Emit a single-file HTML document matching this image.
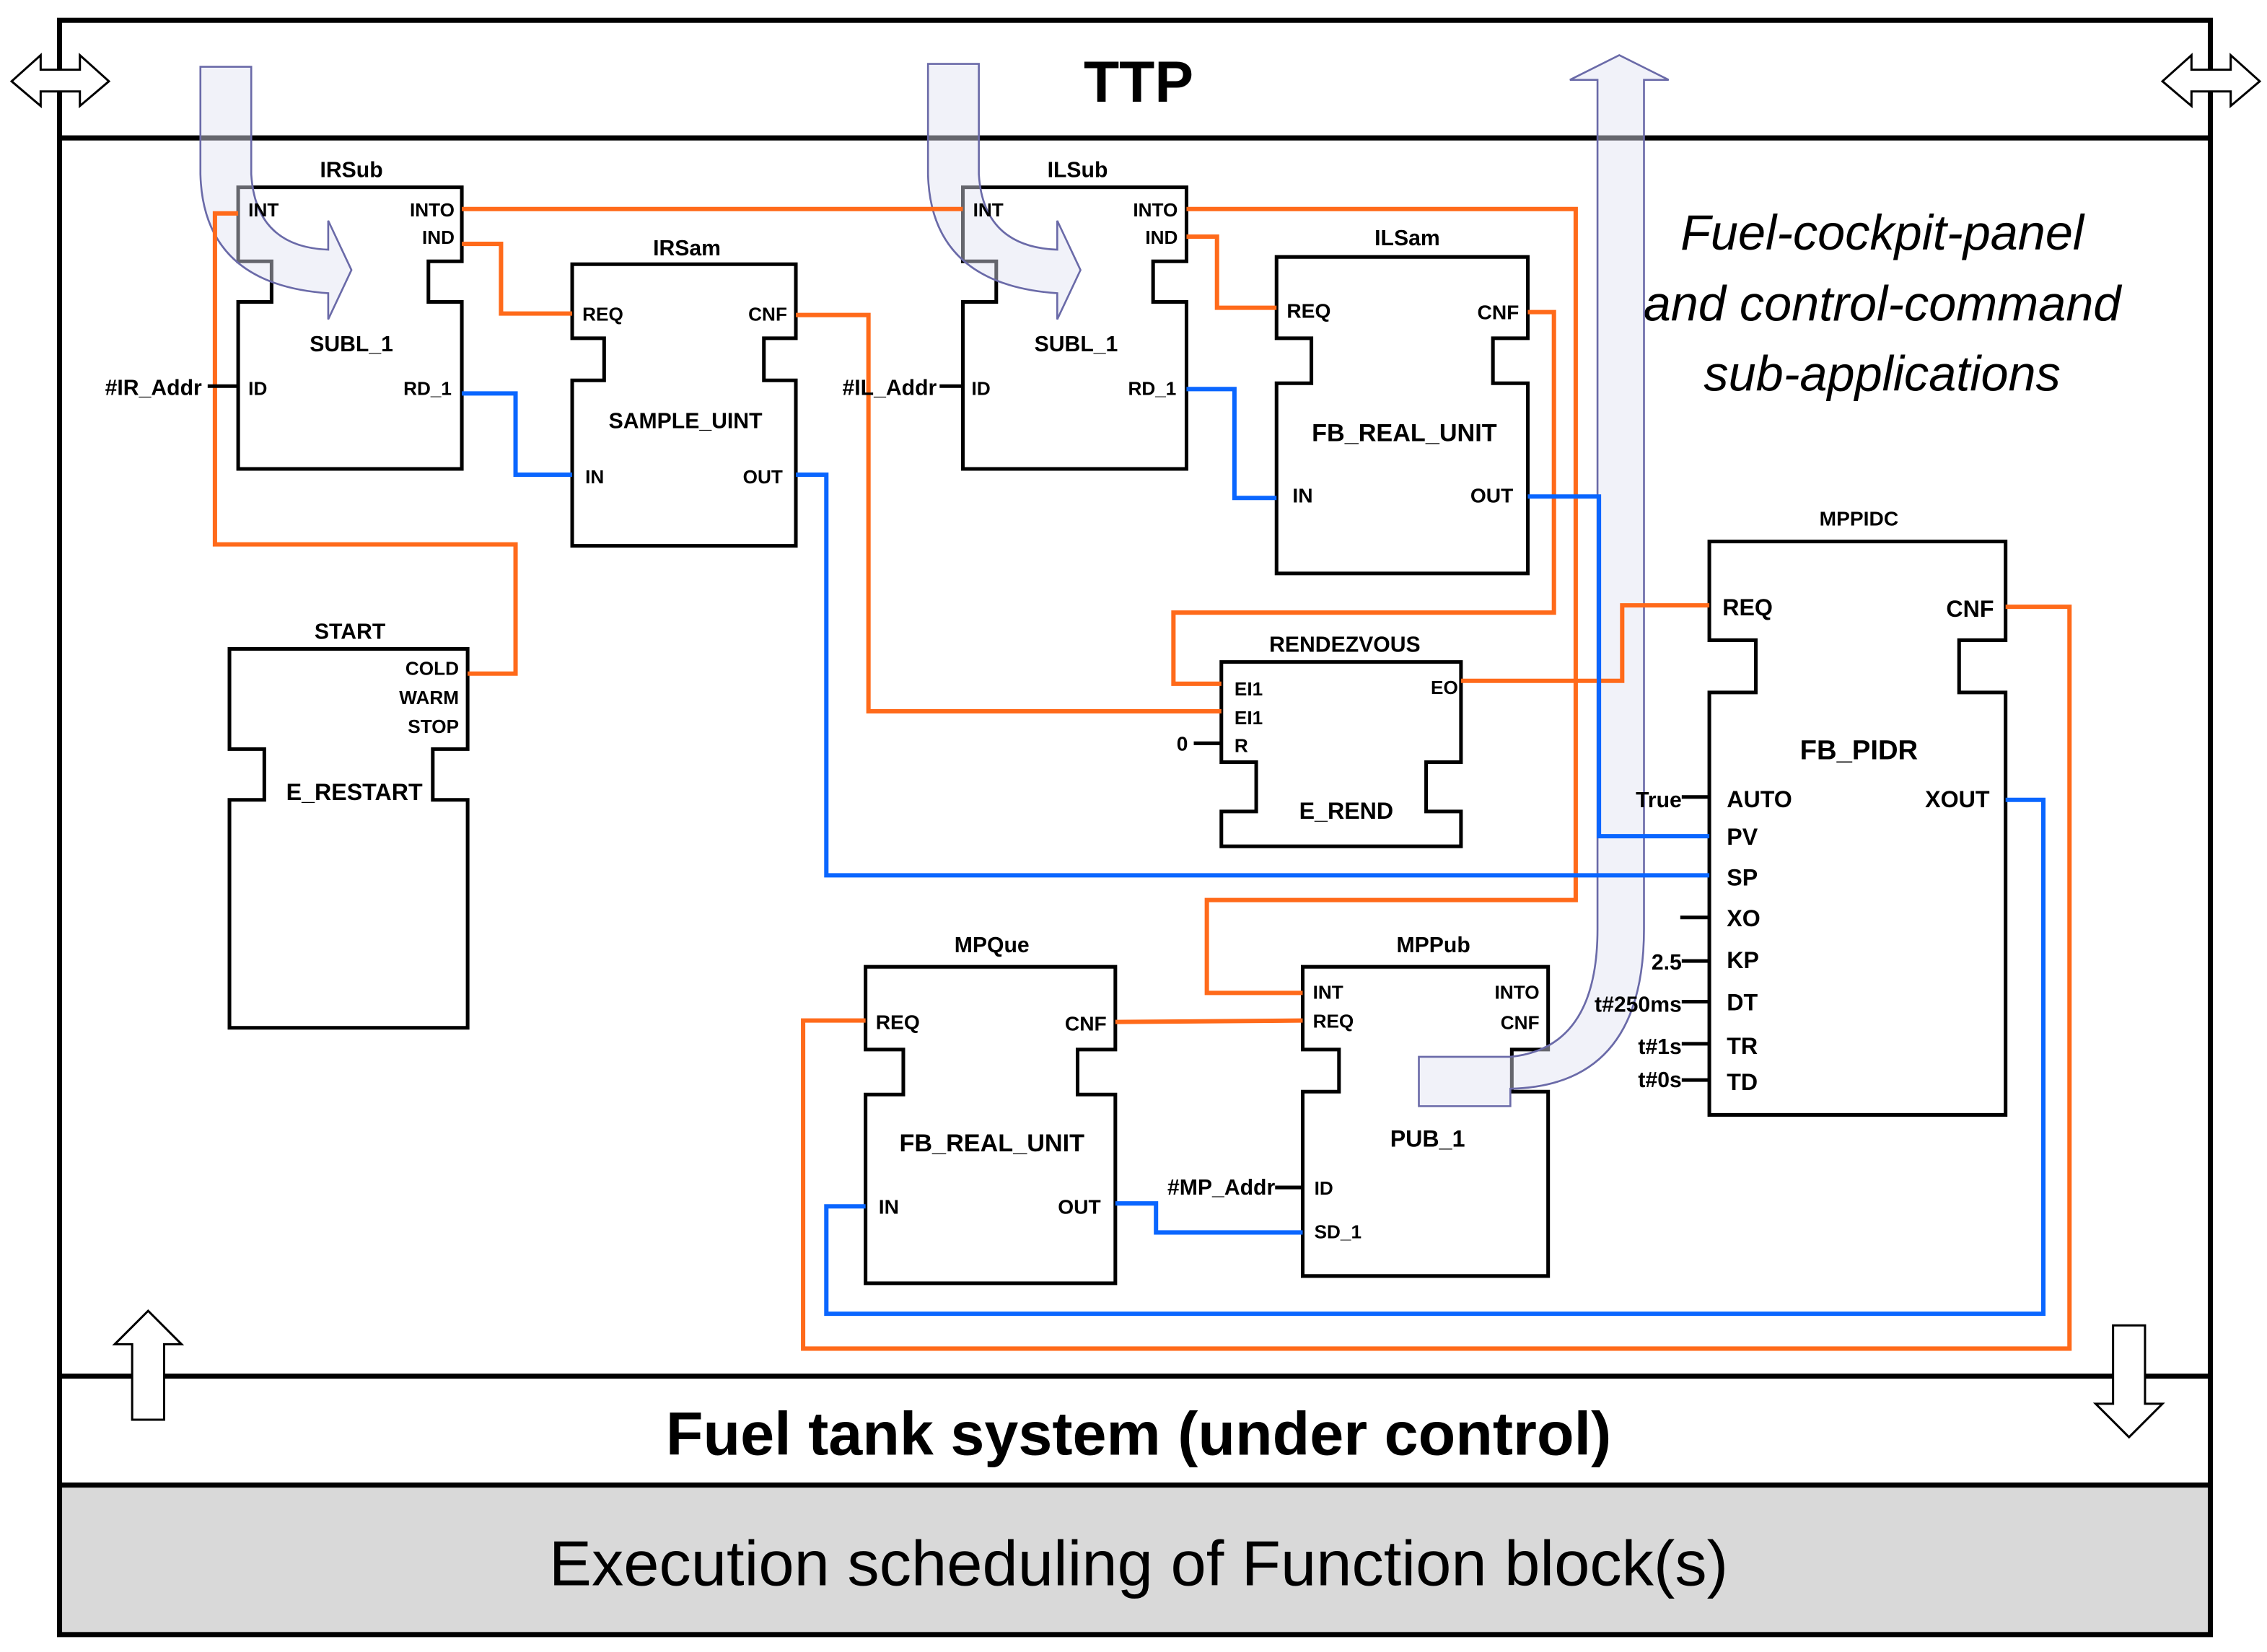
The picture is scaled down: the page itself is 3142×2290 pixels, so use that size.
<!DOCTYPE html>
<html><head><meta charset="utf-8"><style>
html,body{margin:0;padding:0;background:#fff;}
svg{display:block;}
text{font-family:"Liberation Sans",sans-serif;fill:#000;}
.p{font-size:13px;font-weight:bold;}
.n{font-size:15px;font-weight:bold;}
.b{font-size:17px;font-weight:bold;}
.o{fill:none;stroke:#ff6a1a;stroke-width:3;}
.u{fill:none;stroke:#0a66ff;stroke-width:3;}
.fb{fill:#fff;stroke:#000;stroke-width:2.5;}
.k{stroke:#000;stroke-width:2.5;}
.arr{fill:#dfe3f2;fill-opacity:0.45;stroke:#6a6aa8;stroke-width:1.3;}
.wa{fill:#fff;stroke:#000;stroke-width:1.5;}
</style></head><body>
<svg width="3142" height="2290" viewBox="0 0 1561 1138" preserveAspectRatio="none" xmlns="http://www.w3.org/2000/svg">
<rect x="41" y="1023" width="1481" height="103" fill="#d9d9d9"/>
<rect x="41" y="14" width="1481" height="1112" fill="none" stroke="#000" stroke-width="3.5"/>
<line x1="41" y1="95" x2="1522" y2="95" stroke="#000" stroke-width="3.5"/>
<line x1="41" y1="948" x2="1522" y2="948" stroke="#000" stroke-width="3.5"/>
<line x1="41" y1="1023" x2="1522" y2="1023" stroke="#000" stroke-width="3.5"/>
<text x="784" y="70" text-anchor="middle" style="font-size:40px;font-weight:bold">TTP</text>
<text x="784" y="1002" text-anchor="middle" style="font-size:42px;font-weight:bold">Fuel tank system (under control)</text>
<text x="784" y="1092" text-anchor="middle" style="font-size:44px">Execution scheduling of Function block(s)</text>
<g style="font-size:34px;font-style:italic" text-anchor="middle">
<text x="1296" y="172">Fuel-cockpit-panel</text>
<text x="1296" y="221">and control-command</text>
<text x="1296" y="269">sub-applications</text>
</g>
<!-- corner arrows -->
<path class="wa" d="M8,56 L28,38 V48 H55 V38 L75,56 L55,73 V63 H28 V73 Z"/>
<path class="wa" d="M1489,56 L1509,38 V48 H1536 V38 L1556,56 L1536,73 V63 H1509 V73 Z"/>
<path class="wa" d="M102,903 L125,926 H113 V978 H91 V926 H79 Z"/>
<path class="wa" d="M1466,990 L1489,967 H1477 V913 H1455 V967 H1443 Z"/>
<!-- blocks -->
<path class="fb" d="M164,129 H318 V180 H295 V208 H318 V323 H164 V208 H187 V180 H164 Z"/>
<path class="fb" d="M394,182 H548 V233 H526 V262 H548 V376 H394 V262 H416 V233 H394 Z"/>
<path class="fb" d="M663,129 H817 V180 H794 V208 H817 V323 H663 V208 H686 V180 H663 Z"/>
<path class="fb" d="M879,177 H1052 V233 H1028 V264 H1052 V395 H879 V264 H903 V233 H879 Z"/>
<path class="fb" d="M158,447 H322 V516 H298 V551 H322 V708 H158 V551 H182 V516 H158 Z"/>
<path class="fb" d="M841,456 H1006 V525 H982 V559 H1006 V583 H841 V559 H865 V525 H841 Z"/>
<path class="fb" d="M1177,373 H1381 V441 H1349 V477 H1381 V768 H1177 V477 H1209 V441 H1177 Z"/>
<path class="fb" d="M596,666 H768 V723 H742 V754 H768 V884 H596 V754 H622 V723 H596 Z"/>
<path class="fb" d="M897,666 H1066 V723 H1041 V752 H1066 V879 H897 V752 H922 V723 H897 Z"/>
<!-- curved arrows (semi-transparent, under lines) -->
<path class="arr" d="M138,46 H173 V120 Q176,170 226,172 V152 L242,186 L226,220 V202 Q140,196 138,120 Z"/>
<path class="arr" d="M639,44 H674 V120 Q677,170 728,172 V152 L744,186 L728,220 V202 Q641,196 639,120 Z"/>
<path class="arr" d="M1100,55 H1081 L1115,38 L1149,55 H1132 V640 Q1132,748 1040,750 V762 H977 V728 H1040 Q1100,722 1100,640 Z"/>
<!-- orange -->
<polyline class="o" points="318,144 663,144"/>
<polyline class="o" points="817,144 1085,144 1085,620 831,620 831,684 897,684"/>
<polyline class="o" points="318,168 345,168 345,216 394,216"/>
<polyline class="o" points="164,147 148,147 148,375 355,375 355,464 322,464"/>
<polyline class="o" points="548,217 598,217 598,490 841,490"/>
<polyline class="o" points="817,163 838,163 838,212 879,212"/>
<polyline class="o" points="1052,215 1070,215 1070,422 808,422 808,471 841,471"/>
<polyline class="o" points="1006,469 1117,469 1117,417 1177,417"/>
<polyline class="o" points="1381,418 1425,418 1425,929 553,929 553,703 596,703"/>
<polyline class="o" points="768,704 897,703"/>
<!-- blue -->
<polyline class="u" points="318,271 355,271 355,327 394,327"/>
<polyline class="u" points="548,327 569,327 569,603 1177,603"/>
<polyline class="u" points="817,268 850,268 850,343 879,343"/>
<polyline class="u" points="1052,342 1101,342 1101,576 1177,576"/>
<polyline class="u" points="1381,551 1407,551 1407,905 569,905 569,831 596,831"/>
<polyline class="u" points="768,829 796,829 796,849 897,849"/>
<!-- input lines -->
<line class="k" x1="143" y1="266" x2="164" y2="266"/>
<line class="k" x1="647" y1="266" x2="663" y2="266"/>
<line class="k" x1="822" y1="512" x2="841" y2="512"/>
<line class="k" x1="878" y1="818" x2="897" y2="818"/>
<line class="k" x1="1158" y1="549" x2="1177" y2="549"/>
<line class="k" x1="1157" y1="632" x2="1177" y2="632"/>
<line class="k" x1="1158" y1="662" x2="1177" y2="662"/>
<line class="k" x1="1158" y1="690" x2="1177" y2="690"/>
<line class="k" x1="1158" y1="719" x2="1177" y2="719"/>
<line class="k" x1="1158" y1="744" x2="1177" y2="744"/>
<!-- labels -->
<g class="p">
<text x="242" y="122" text-anchor="middle" style="font-size:15px">IRSub</text>
<text x="171" y="149">INT</text><text x="313" y="149" text-anchor="end">INTO</text>
<text x="313" y="168" text-anchor="end">IND</text>
<text x="171" y="272">ID</text><text x="311" y="272" text-anchor="end">RD_1</text>
<text x="139" y="272" text-anchor="end" style="font-size:15px">#IR_Addr</text>
<text x="473" y="176" text-anchor="middle" style="font-size:15px">IRSam</text>
<text x="401" y="221">REQ</text><text x="542" y="221" text-anchor="end">CNF</text>
<text x="403" y="333">IN</text><text x="539" y="333" text-anchor="end">OUT</text>
<text x="742" y="122" text-anchor="middle" style="font-size:15px">ILSub</text>
<text x="670" y="149">INT</text><text x="811" y="149" text-anchor="end">INTO</text>
<text x="811" y="168" text-anchor="end">IND</text>
<text x="669" y="272">ID</text><text x="810" y="272" text-anchor="end">RD_1</text>
<text x="645" y="272" text-anchor="end" style="font-size:15px">#IL_Addr</text>
<text x="969" y="169" text-anchor="middle" style="font-size:15px">ILSam</text>
<text x="886" y="219" style="font-size:14px">REQ</text><text x="1046" y="220" text-anchor="end" style="font-size:14px">CNF</text>
<text x="890" y="346" style="font-size:14px">IN</text><text x="1042" y="346" text-anchor="end" style="font-size:14px">OUT</text>
<text x="241" y="440" text-anchor="middle" style="font-size:15px">START</text>
<text x="316" y="465" text-anchor="end">COLD</text>
<text x="316" y="485" text-anchor="end">WARM</text>
<text x="316" y="505" text-anchor="end">STOP</text>
<text x="926" y="449" text-anchor="middle" style="font-size:15px">RENDEZVOUS</text>
<text x="850" y="479">EI1</text><text x="850" y="499">EI1</text><text x="850" y="518">R</text>
<text x="1004" y="478" text-anchor="end">EO</text>
<text x="818" y="517" text-anchor="end" style="font-size:14px">0</text>
<text x="1280" y="362" text-anchor="middle" style="font-size:14px">MPPIDC</text>
<text x="683" y="656" text-anchor="middle" style="font-size:15px">MPQue</text>
<text x="603" y="709" style="font-size:14px">REQ</text><text x="762" y="710" text-anchor="end" style="font-size:14px">CNF</text>
<text x="605" y="836" style="font-size:14px">IN</text><text x="758" y="836" text-anchor="end" style="font-size:14px">OUT</text>
<text x="987" y="656" text-anchor="middle" style="font-size:15px">MPPub</text>
<text x="904" y="688">INT</text><text x="904" y="708">REQ</text>
<text x="1060" y="688" text-anchor="end">INTO</text><text x="1060" y="709" text-anchor="end">CNF</text>
<text x="905" y="823">ID</text><text x="905" y="853">SD_1</text>
<text x="878" y="823" text-anchor="end" style="font-size:15px">#MP_Addr</text>
</g>
<g class="n">
<text x="242" y="242" text-anchor="middle">SUBL_1</text>
<text x="741" y="242" text-anchor="middle">SUBL_1</text>
<text x="472" y="295" text-anchor="middle">SAMPLE_UINT</text>
<text x="244" y="551" text-anchor="middle" style="font-size:16px">E_RESTART</text>
<text x="927" y="564" text-anchor="middle" style="font-size:16px">E_REND</text>
<text x="983" y="790" text-anchor="middle" style="font-size:16px">PUB_1</text>
</g>
<g class="b">
<text x="967" y="304" text-anchor="middle">FB_REAL_UNIT</text>
<text x="683" y="793" text-anchor="middle">FB_REAL_UNIT</text>
<text x="1280" y="523" text-anchor="middle" style="font-size:19px">FB_PIDR</text>
<text x="1186" y="424" style="font-size:16px">REQ</text><text x="1373" y="425" text-anchor="end" style="font-size:16px">CNF</text>
<text x="1189" y="556" style="font-size:16px">AUTO</text><text x="1370" y="556" text-anchor="end" style="font-size:16px">XOUT</text>
<text x="1189" y="582" style="font-size:16px">PV</text>
<text x="1189" y="610" style="font-size:16px">SP</text>
<text x="1189" y="638" style="font-size:16px">XO</text>
<text x="1189" y="667" style="font-size:16px">KP</text>
<text x="1189" y="696" style="font-size:16px">DT</text>
<text x="1189" y="726" style="font-size:16px">TR</text>
<text x="1189" y="751" style="font-size:16px">TD</text>
<text x="1158" y="556" text-anchor="end" style="font-size:15px">True</text>
<text x="1158" y="668" text-anchor="end" style="font-size:15px">2.5</text>
<text x="1158" y="697" text-anchor="end" style="font-size:15px">t#250ms</text>
<text x="1158" y="726" text-anchor="end" style="font-size:15px">t#1s</text>
<text x="1158" y="749" text-anchor="end" style="font-size:15px">t#0s</text>
</g>
</svg>
</body></html>
